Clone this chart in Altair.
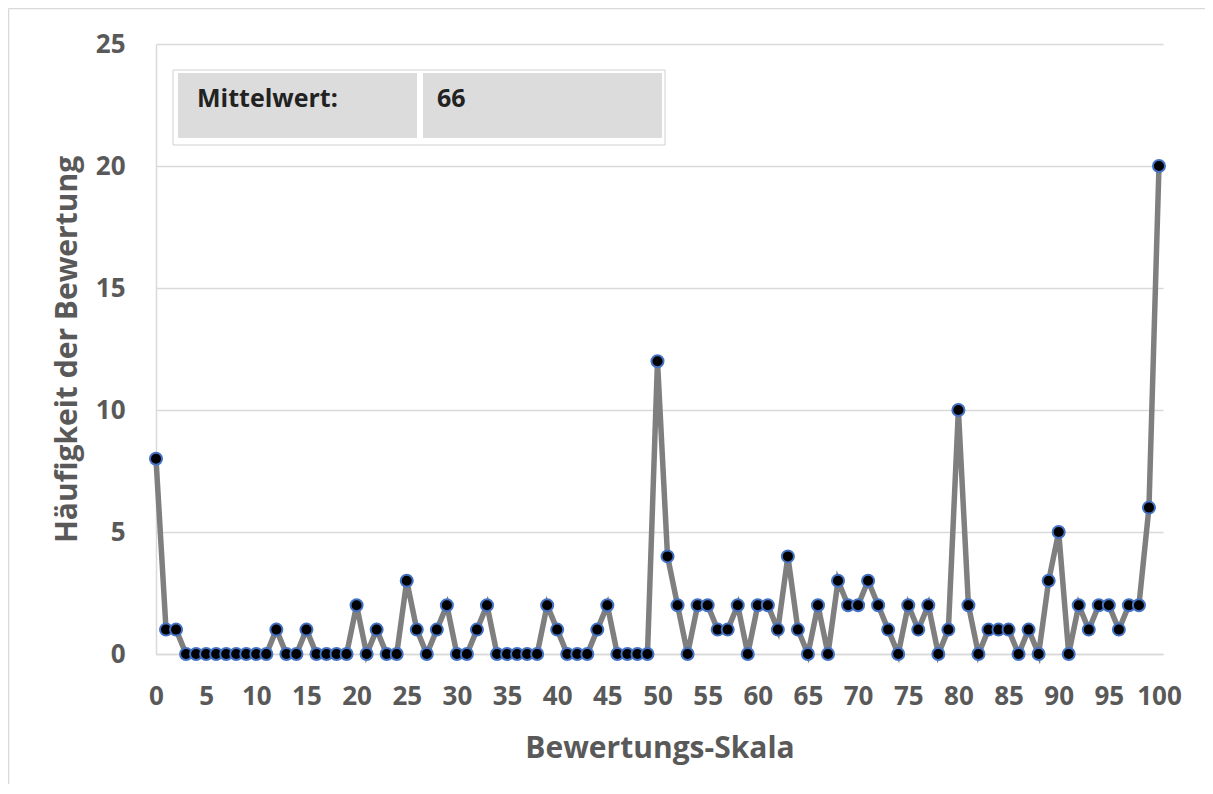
import altair as alt
import pandas as pd

# ---------------- data ----------------
scores = list(range(0, 101))
counts = [8, 1, 1, 0, 0, 0, 0, 0, 0, 0,
          0, 0, 1, 0, 0, 1, 0, 0, 0, 0,
          2, 0, 1, 0, 0, 3, 1, 0, 1, 2,
          0, 0, 1, 2, 0, 0, 0, 0, 0, 2,
          1, 0, 0, 0, 1, 2, 0, 0, 0, 0,
          12, 4, 2, 0, 2, 2, 1, 1, 2, 0,
          2, 2, 1, 4, 1, 0, 2, 0, 3, 2,
          2, 3, 2, 1, 0, 2, 1, 2, 0, 1,
          10, 2, 0, 1, 1, 1, 0, 1, 0, 3,
          5, 0, 2, 1, 2, 2, 1, 2, 2, 6,
          20]
x_ticks = [0, 5, 10, 15, 20, 25, 30, 35, 40, 45, 50, 55, 60, 65, 70, 75, 80, 85, 90, 95, 100]
y_ticks = [0, 5, 10, 15, 20, 25]
x_title = "Bewertungs-Skala"
y_title = "Häufigkeit der Bewertung"
table_label = "Mittelwert:"
table_value = "66"

FONT = "Open Sans"
GREY_TXT = "#595959"
GRID = "#d9d9d9"

W, H = 1007, 610
PAD = {"left": 148, "top": 36, "right": 42, "bottom": 130}

df = pd.DataFrame({"Bewertung": scores, "Anzahl": counts})

x_enc = alt.X(
    "Bewertung:Q",
    scale=alt.Scale(domain=[0, 100.4], nice=False, zero=False),
    axis=alt.Axis(
        values=x_ticks, title=x_title, grid=False, ticks=False,
        domainColor=GRID, domainWidth=1.5,
        labelFont=FONT, labelFontSize=26, labelFontWeight="bold", labelColor=GREY_TXT,
        labelPadding=29, labelFlush=False, labelOverlap=False,
        titleFont=FONT, titleFontSize=30, titleFontWeight="bold", titleColor=GREY_TXT,
        titleX=W / 2, titleY=103, titleBaseline="alphabetic", titleAlign="center",
    ),
)
y_enc = alt.Y(
    "Anzahl:Q",
    scale=alt.Scale(domain=[0, 25], nice=False),
    axis=alt.Axis(
        values=y_ticks, title=y_title, grid=True, gridColor=GRID, gridWidth=1.5,
        ticks=False, domainColor=GRID, domainWidth=1.5,
        labelFont=FONT, labelFontSize=26, labelFontWeight="bold", labelColor=GREY_TXT,
        labelPadding=31,
        titleFont=FONT, titleFontSize=30, titleFontWeight="bold", titleColor=GREY_TXT,
        titleX=-80, titleY=H / 2, titleBaseline="alphabetic", titleAngle=270, titleAlign="center",
    ),
)

base = alt.Chart(df)
line = base.mark_line(color="#7f7f7f", strokeWidth=5.5).encode(x=x_enc, y=y_enc)
points = base.mark_circle(
    color="black", stroke="#4472C4", strokeWidth=2, size=145, opacity=1
).encode(x=x_enc, y=y_enc)

one = pd.DataFrame({"k": [0]})
deco = alt.Chart(one)

border_top = deco.mark_rule(color=GRID, strokeWidth=1.5).encode(
    x=alt.value(-147.5), x2=alt.value(W + PAD["right"]), y=alt.value(-35.5))
border_left = deco.mark_rule(color=GRID, strokeWidth=1.5).encode(
    x=alt.value(-147.5), y=alt.value(-35.5), y2=alt.value(H + PAD["bottom"]))

box = deco.mark_rect(fill="white", stroke="#d0d0d0", strokeWidth=1).encode(
    x=alt.value(17), x2=alt.value(509), y=alt.value(26), y2=alt.value(101))
cell_l = deco.mark_rect(fill="#dcdcdc").encode(
    x=alt.value(22), x2=alt.value(261), y=alt.value(29), y2=alt.value(94))
cell_r = deco.mark_rect(fill="#dcdcdc").encode(
    x=alt.value(267), x2=alt.value(506), y=alt.value(29), y2=alt.value(94))
txt_l = deco.mark_text(
    align="left", baseline="alphabetic", font=FONT, fontWeight="bold", fontSize=25, color="#222222"
).encode(x=alt.value(41), y=alt.value(63), text=alt.value(table_label))
txt_r = deco.mark_text(
    align="left", baseline="alphabetic", font=FONT, fontWeight="bold", fontSize=25, color="#222222"
).encode(x=alt.value(281), y=alt.value(63), text=alt.value(table_value))

chart = alt.layer(
    border_top, border_left, box, cell_l, cell_r, txt_l, txt_r, line, points
).properties(
    width=W, height=H, padding=PAD,
    autosize=alt.AutoSizeParams(type="none"),
    background="white",
).configure_view(stroke=None)

chart.save("out.html", embed_options={"renderer": "svg", "actions": False})
